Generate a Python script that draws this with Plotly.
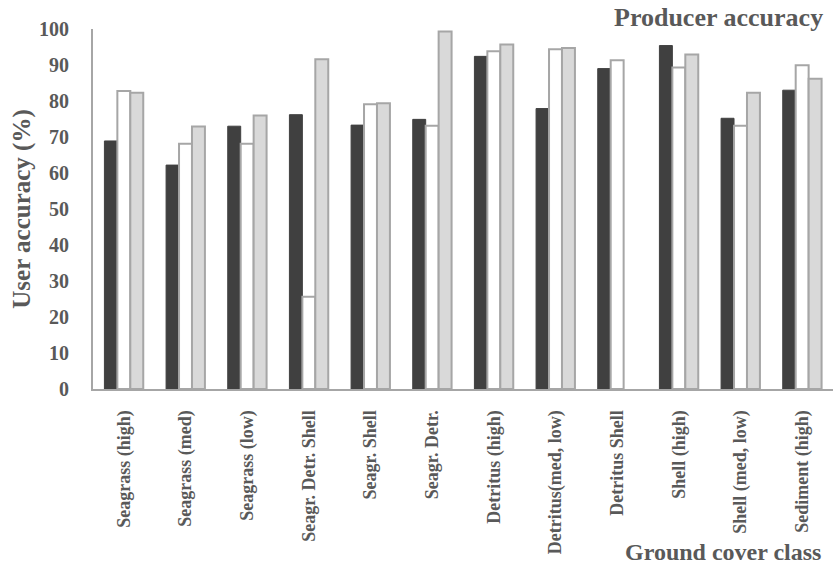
import plotly.graph_objects as go

# Ground cover classes and accuracy values (%) for the three series
categories = [
    "Seagrass (high)", "Seagrass (med)", "Seagrass (low)", "Seagr. Detr. Shell",
    "Seagr. Shell", "Seagr. Detr.", "Detritus (high)", "Detritus(med, low)",
    "Detritus Shell", "Shell (high)", "Shell (med, low)", "Sediment (high)",
]
series_dark = [68.9, 62.2, 73.0, 76.2, 73.3, 74.9, 92.4, 77.9, 89.0, 95.4, 75.2, 83.0]
series_white = [82.8, 68.1, 68.1, 25.6, 79.1, 73.1, 93.8, 94.4, 91.3, 89.3, 73.1, 89.9]
series_grey = [82.3, 72.9, 76.0, 91.6, 79.4, 99.3, 95.7, 94.7, None, 92.9, 82.3, 86.2]
y_ticks = [0, 10, 20, 30, 40, 50, 60, 70, 80, 90, 100]

FONT = "Liberation Serif"
TXT = "#595959"
EDGE = "#a6a6a6"

fig = go.Figure()
fig.add_bar(x=categories, y=series_dark, marker=dict(color="#404040", line=dict(color="#404040", width=1)))
fig.add_bar(x=categories, y=series_white, marker=dict(color="#ffffff", line=dict(color=EDGE, width=2)))
fig.add_bar(x=categories, y=series_grey, marker=dict(color="#d9d9d9", line=dict(color=EDGE, width=2)))

fig.update_layout(
    width=833, height=571,
    margin=dict(l=93, r=0, t=29, b=182),
    paper_bgcolor="white", plot_bgcolor="white",
    showlegend=False,
    barmode="group", bargap=0.37, bargroupgap=0,
    font=dict(family=FONT, color=TXT),
)
fig.update_yaxes(
    range=[0, 100], tickvals=y_ticks, showgrid=False, zeroline=False,
    showline=True, linecolor=EDGE, linewidth=2,
    tickfont=dict(family=FONT, size=20, color=TXT, weight="bold"),
    ticklabelstandoff=18,
    title=dict(text="<b>User accuracy (%)</b>", font=dict(family=FONT, size=25, color=TXT), standoff=1),
)
fig.update_xaxes(
    showgrid=False, showline=True, linecolor=EDGE, linewidth=2,
    tickangle=-90, ticklabelstandoff=12,
    tickfont=dict(family=FONT, size=18, color=TXT, weight="bold"),
)
fig.add_annotation(
    text="<b>Producer accuracy</b>", xref="paper", yref="paper", x=1.0, y=1.0,
    xanchor="right", yanchor="middle", xshift=-8, yshift=12, showarrow=False,
    font=dict(family=FONT, size=26, color=TXT),
)
fig.add_annotation(
    text="<b>Ground cover class</b>", xref="paper", yref="paper", x=1.0, y=0,
    xanchor="right", yanchor="middle", xshift=-10, yshift=-163, showarrow=False,
    font=dict(family=FONT, size=24, color=TXT),
)

fig.write_html("out.html")
